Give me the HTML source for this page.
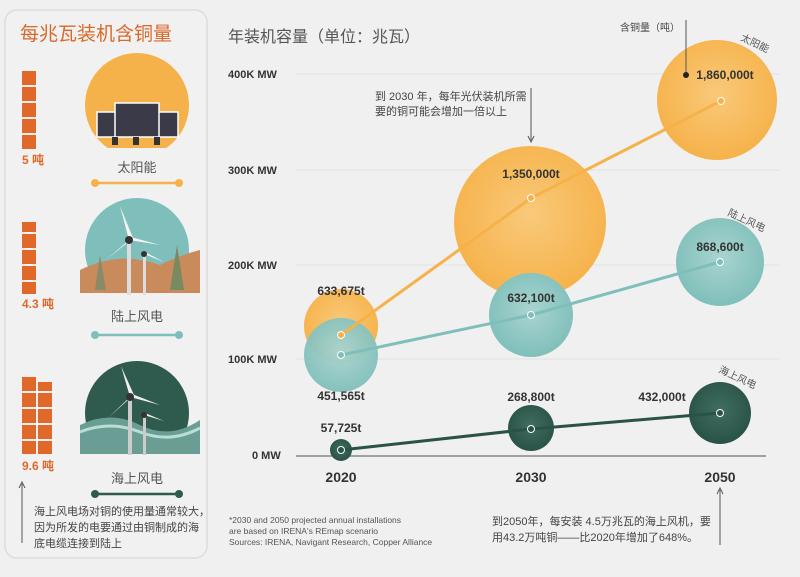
<!DOCTYPE html>
<html><head><meta charset="utf-8"><style>
body{margin:0;background:#f0f0f0;width:800px;height:572px;overflow:hidden;font-family:"Liberation Sans","Noto Sans CJK SC",sans-serif;}
</style></head><body>
<svg width="800" height="572" xmlns="http://www.w3.org/2000/svg" font-family="Liberation Sans, Noto Sans CJK SC, sans-serif">
<defs>
<radialGradient id="og" cx="50%" cy="45%" r="55%"><stop offset="0" stop-color="#f9c97a"/><stop offset="1" stop-color="#f6b24a"/></radialGradient>
<radialGradient id="tg" cx="50%" cy="45%" r="55%"><stop offset="0" stop-color="#a9d4d0"/><stop offset="1" stop-color="#80bfba"/></radialGradient>
<radialGradient id="dg" cx="50%" cy="45%" r="55%"><stop offset="0" stop-color="#3f6e60"/><stop offset="1" stop-color="#2a5246"/></radialGradient>
<clipPath id="c1"><rect x="80" y="40" width="120" height="108"/></clipPath>
<clipPath id="c2"><rect x="80" y="190" width="120" height="103"/></clipPath>
<clipPath id="c3"><rect x="80" y="350" width="120" height="104"/></clipPath>
</defs>
<rect x="5" y="10" width="202" height="548" rx="12" fill="#f1f1f1" stroke="#dcdcdc" stroke-width="1.5"/>
<text x="20" y="40" font-size="19" fill="#d9692a">每兆瓦装机含铜量</text>
<g fill="#e0692a">
<rect x="22" y="71" width="14" height="14"/><rect x="22" y="87" width="14" height="14"/><rect x="22" y="103" width="14" height="14"/><rect x="22" y="119" width="14" height="14"/><rect x="22" y="135" width="14" height="14"/>
<rect x="22" y="222" width="14" height="10"/><rect x="22" y="234" width="14" height="14"/><rect x="22" y="250" width="14" height="14"/><rect x="22" y="266" width="14" height="14"/><rect x="22" y="282" width="14" height="12"/>
<rect x="22" y="377" width="14" height="14"/><rect x="22" y="393" width="14" height="14"/><rect x="22" y="409" width="14" height="14"/><rect x="22" y="425" width="14" height="14"/><rect x="22" y="441" width="14" height="13"/>
<rect x="38" y="382" width="14" height="9"/><rect x="38" y="393" width="14" height="14"/><rect x="38" y="409" width="14" height="14"/><rect x="38" y="425" width="14" height="14"/><rect x="38" y="441" width="14" height="13"/>
</g>
<g font-size="12" font-weight="bold" fill="#e0692a"><text x="22" y="164">5 吨</text><text x="22" y="308">4.3 吨</text><text x="22" y="470">9.6 吨</text></g>
<circle cx="137" cy="105" r="52" fill="#f6b24a" clip-path="url(#c1)"/>
<g fill="#3a3a48" stroke="#fff" stroke-width="1.5"><rect x="97" y="112" width="25" height="25"/><rect x="153" y="112" width="25" height="25"/><rect x="115" y="103" width="44" height="34"/></g>
<rect x="112" y="137" width="6" height="8" fill="#333"/><rect x="133" y="137" width="6" height="8" fill="#333"/><rect x="154" y="137" width="6" height="8" fill="#333"/>
<text x="137" y="172" font-size="13" fill="#555" text-anchor="middle">太阳能</text>
<line x1="95" y1="183" x2="179" y2="183" stroke="#f6b24a" stroke-width="2.5"/><circle cx="95" cy="183" r="4" fill="#f6b24a"/><circle cx="179" cy="183" r="4" fill="#f6b24a"/>
<g clip-path="url(#c2)"><circle cx="137" cy="250" r="52" fill="#7fbfbb"/>
<path d="M80 270 Q120 250 160 265 Q180 255 200 250 L200 300 L80 300Z" fill="#c98a5c"/>
<polygon points="95,290 100,255 106,290" fill="#8a8a68"/><polygon points="170,290 177,245 184,290" fill="#7a8a60"/></g>
<rect x="127" y="240" width="4" height="55" fill="#ddd"/><rect x="143" y="255" width="3" height="40" fill="#ddd"/>
<g fill="#f4f4f4"><path d="M129 240 L120 206 L133 238Z"/><path d="M129 240 L106 260 L127 243Z"/><path d="M129 240 L160 245 L131 237Z"/><path d="M144 254 L164 262 L145 252Z"/><path d="M144 254 L130 270 L143 255Z"/></g>
<circle cx="129" cy="240" r="4" fill="#333"/><circle cx="144" cy="254" r="3" fill="#333"/>
<text x="137" y="321" font-size="13" fill="#555" text-anchor="middle">陆上风电</text>
<line x1="95" y1="335" x2="179" y2="335" stroke="#7fbfbb" stroke-width="2.5"/><circle cx="95" cy="335" r="4" fill="#7fbfbb"/><circle cx="179" cy="335" r="4" fill="#7fbfbb"/>
<g clip-path="url(#c3)"><circle cx="137" cy="413" r="52" fill="#2f5a4e"/>
<path d="M80 425 Q110 410 140 425 T200 420 L200 460 L80 460Z" fill="#6a9d94"/>
<path d="M80 432 Q110 420 140 432 T200 428" stroke="#b9ddd7" stroke-width="3" fill="none"/></g>
<rect x="128" y="397" width="4" height="58" fill="#ccc"/><rect x="143" y="415" width="3" height="40" fill="#ccc"/>
<g fill="#f0f0f0"><path d="M130 397 L121 366 L134 395Z"/><path d="M130 397 L108 418 L128 400Z"/><path d="M130 397 L160 405 L132 394Z"/><path d="M144 415 L164 421 L145 413Z"/><path d="M144 415 L130 430 L143 416Z"/></g>
<circle cx="130" cy="397" r="4" fill="#333"/><circle cx="144" cy="415" r="3" fill="#333"/>
<text x="137" y="483" font-size="13" fill="#555" text-anchor="middle">海上风电</text>
<line x1="95" y1="494" x2="179" y2="494" stroke="#2f5a4e" stroke-width="2.5"/><circle cx="95" cy="494" r="4" fill="#2f5a4e"/><circle cx="179" cy="494" r="4" fill="#2f5a4e"/>
<line x1="22" y1="484" x2="22" y2="543" stroke="#555" stroke-width="1"/><path d="M19 488 L22 482 L25 488" fill="none" stroke="#555"/>
<g font-size="11" fill="#444"><text x="34" y="515">海上风电场对铜的使用量通常较大，</text><text x="34" y="531">因为所发的电要通过由铜制成的海</text><text x="34" y="547">底电缆连接到陆上</text></g>
<text x="228" y="42" font-size="16" fill="#555">年装机容量（单位：兆瓦）</text>
<g stroke="#e2e2e2" stroke-width="1"><line x1="296" y1="74" x2="779" y2="74"/><line x1="296" y1="170" x2="779" y2="170"/><line x1="296" y1="265" x2="779" y2="265"/><line x1="296" y1="359" x2="779" y2="359"/></g>
<line x1="296" y1="456" x2="766" y2="456" stroke="#888" stroke-width="1.5"/>
<g font-size="11" font-weight="bold" fill="#333"><text x="228" y="78">400K MW</text><text x="228" y="174">300K MW</text><text x="228" y="269">200K MW</text><text x="228" y="363">100K MW</text><text x="252" y="459">0 MW</text></g>
<g font-size="14" font-weight="bold" fill="#333" text-anchor="middle"><text x="341" y="482">2020</text><text x="531" y="482">2030</text><text x="720" y="482">2050</text></g>
<circle cx="341" cy="326" r="37" fill="url(#og)"/>
<circle cx="530" cy="222" r="76" fill="url(#og)"/>
<circle cx="717" cy="100" r="60" fill="url(#og)"/>
<circle cx="341" cy="355" r="37" fill="url(#tg)" opacity="0.95"/>
<circle cx="531" cy="315" r="42" fill="url(#tg)"/>
<circle cx="720" cy="262" r="44" fill="url(#tg)"/>
<circle cx="341" cy="450" r="11" fill="url(#dg)"/>
<circle cx="531" cy="428" r="23" fill="url(#dg)"/>
<circle cx="720" cy="413" r="31" fill="url(#dg)"/>
<polyline points="341,335 531,198 721,101" fill="none" stroke="#f6b24a" stroke-width="3"/>
<polyline points="341,355 531,315 720,262" fill="none" stroke="#7fbfbb" stroke-width="3"/>
<polyline points="341,450 531,429 720,413" fill="none" stroke="#2a5246" stroke-width="3"/>
<g stroke="#fff" stroke-width="1"><circle cx="341" cy="335" r="3.5" fill="#f6b24a"/><circle cx="531" cy="198" r="3.5" fill="#f6b24a"/><circle cx="721" cy="101" r="3.5" fill="#f6b24a"/>
<circle cx="341" cy="355" r="3.5" fill="#7fbfbb"/><circle cx="531" cy="315" r="3.5" fill="#7fbfbb"/><circle cx="720" cy="262" r="3.5" fill="#7fbfbb"/>
<circle cx="341" cy="450" r="3.5" fill="#2a5246"/><circle cx="531" cy="429" r="3.5" fill="#2a5246"/><circle cx="720" cy="413" r="3.5" fill="#2a5246"/></g>
<g font-size="12" font-weight="bold" fill="#333" text-anchor="middle">
<text x="341" y="295">633,675t</text><text x="341" y="400">451,565t</text><text x="341" y="432">57,725t</text>
<text x="531" y="178">1,350,000t</text><text x="531" y="302">632,100t</text><text x="531" y="401">268,800t</text>
<text x="725" y="79">1,860,000t</text><text x="720" y="251">868,600t</text><text x="662" y="401">432,000t</text></g>
<g font-size="10" fill="#555"><text x="740" y="40" transform="rotate(25 740 40)">太阳能</text><text x="727" y="215" transform="rotate(25 727 215)">陆上风电</text><text x="718" y="372" transform="rotate(25 718 372)">海上风电</text></g>
<text x="620" y="31" font-size="10" fill="#444">含铜量（吨）</text>
<line x1="686" y1="20" x2="686" y2="75" stroke="#555"/><circle cx="686" cy="75" r="3" fill="#222"/>
<g font-size="11" fill="#444"><text x="375" y="100">到 2030 年，每年光伏装机所需</text><text x="375" y="115">要的铜可能会增加一倍以上</text></g>
<line x1="531" y1="88" x2="531" y2="140" stroke="#555"/><path d="M528 136 L531 142 L534 136" fill="none" stroke="#555"/>
<g font-size="8.5" fill="#555"><text x="229" y="523">*2030 and 2050 projected annual installations</text><text x="229" y="534">are based on IRENA's REmap scenario</text><text x="229" y="545">Sources: IRENA, Navigant Research, Copper Alliance</text></g>
<g font-size="11" fill="#444"><text x="492" y="525">到2050年，每安装 4.5万兆瓦的海上风机，要</text><text x="492" y="541">用43.2万吨铜——比2020年增加了648%。</text></g>
<line x1="720" y1="490" x2="720" y2="545" stroke="#555"/><path d="M717 494 L720 488 L723 494" fill="none" stroke="#555"/>
</svg>
</body></html>
